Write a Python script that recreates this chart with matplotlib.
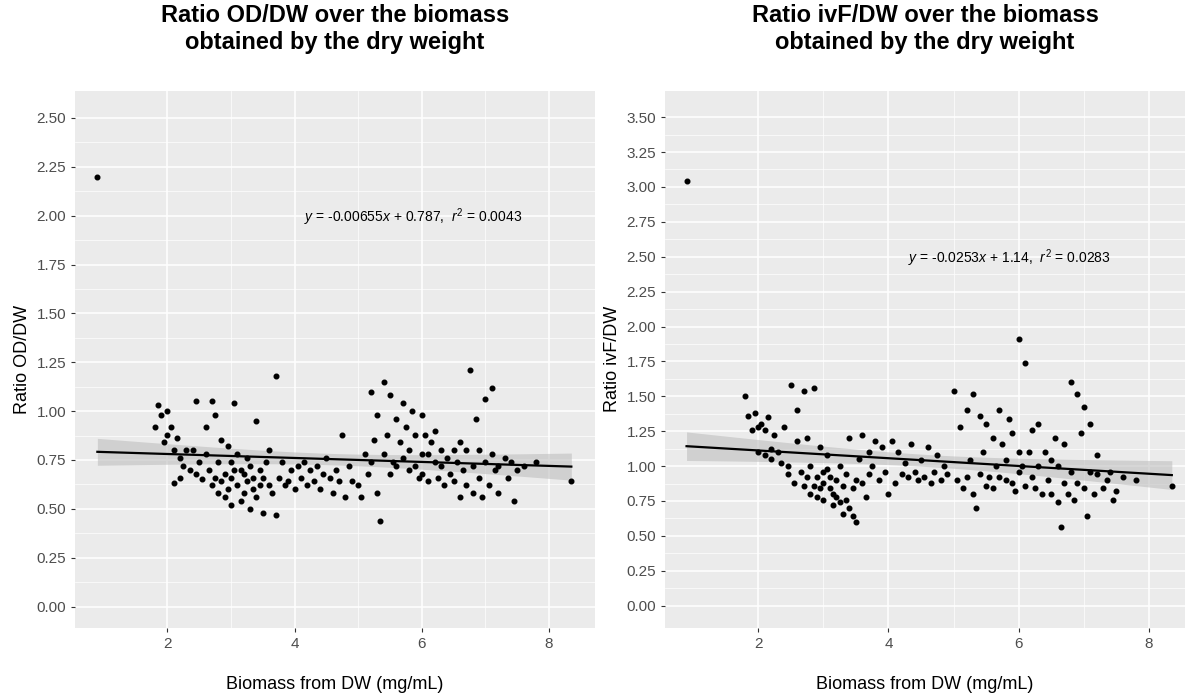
import numpy as np
import matplotlib
matplotlib.use("Agg")
import matplotlib.pyplot as plt
plt.rcParams['font.family'] = ['Liberation Sans', 'DejaVu Sans']
plt.rcParams['mathtext.fontset'] = 'custom'
plt.rcParams['mathtext.it'] = 'Liberation Sans:italic'
plt.rcParams['mathtext.rm'] = 'Liberation Sans'

biomass = [0.9,1.8,1.85,1.9,1.95,2.0,2.0,2.05,2.1,2.1,2.15,2.2,2.2,2.25,2.3,2.35,2.4,2.45,2.45,2.5,2.55,2.6,2.6,2.65,2.7,2.7,2.75,2.75,2.8,2.8,2.85,2.85,2.9,2.9,2.95,2.95,3.0,3.0,3.0,3.05,3.05,3.1,3.1,3.15,3.15,3.2,3.2,3.25,3.25,3.3,3.3,3.35,3.35,3.4,3.4,3.45,3.45,3.5,3.5,3.55,3.6,3.6,3.65,3.7,3.7,3.75,3.8,3.85,3.9,3.95,4.0,4.05,4.1,4.15,4.2,4.25,4.3,4.35,4.4,4.45,4.5,4.55,4.6,4.65,4.7,4.75,4.8,4.85,4.9,5.0,5.05,5.1,5.15,5.2,5.2,5.25,5.3,5.3,5.35,5.4,5.4,5.45,5.5,5.5,5.55,5.6,5.6,5.65,5.7,5.7,5.75,5.8,5.8,5.85,5.9,5.9,5.95,6.0,6.0,6.0,6.05,6.1,6.1,6.15,6.2,6.2,6.25,6.3,6.3,6.35,6.4,6.45,6.5,6.5,6.55,6.6,6.6,6.65,6.7,6.7,6.75,6.8,6.8,6.85,6.9,6.9,6.95,7.0,7.0,7.05,7.1,7.1,7.15,7.2,7.2,7.3,7.35,7.4,7.45,7.5,7.6,7.8,8.35]
ratio_od = [2.20,0.92,1.03,0.98,0.84,1.00,0.88,0.92,0.63,0.80,0.86,0.76,0.66,0.72,0.80,0.70,0.80,1.05,0.68,0.74,0.65,0.78,0.92,0.70,1.05,0.62,0.66,0.98,0.74,0.58,0.85,0.64,0.68,0.56,0.82,0.60,0.74,0.66,0.52,0.70,1.04,0.62,0.78,0.70,0.54,0.68,0.58,0.76,0.64,0.72,0.50,0.66,0.60,0.95,0.56,0.70,0.62,0.66,0.48,0.74,0.62,0.80,0.58,1.18,0.47,0.66,0.74,0.62,0.64,0.70,0.60,0.72,0.66,0.74,0.62,0.70,0.64,0.72,0.60,0.68,0.76,0.66,0.58,0.70,0.64,0.88,0.56,0.72,0.64,0.62,0.56,0.78,0.68,1.10,0.74,0.85,0.58,0.98,0.44,1.15,0.78,0.88,0.68,1.08,0.74,0.96,0.72,0.84,1.04,0.76,0.92,0.80,0.70,1.00,0.72,0.88,0.66,0.98,0.78,0.68,0.88,0.78,0.64,0.84,0.74,0.90,0.66,0.80,0.72,0.62,0.76,0.68,0.80,0.64,0.74,0.56,0.84,0.70,0.62,0.80,1.21,0.72,0.58,0.96,0.66,0.80,0.56,0.74,1.06,0.62,0.78,1.12,0.70,0.58,0.72,0.76,0.66,0.74,0.54,0.70,0.72,0.74,0.64]
ratio_ivf = [3.04,1.50,1.36,1.26,1.38,1.28,1.10,1.30,1.26,1.08,1.35,1.05,1.12,1.22,1.10,1.02,1.28,1.00,0.94,1.58,0.88,1.18,1.40,0.96,1.54,0.86,0.92,1.20,1.00,0.80,1.56,0.86,0.92,0.78,1.14,0.84,0.96,0.88,0.76,0.98,1.08,0.84,0.92,0.80,0.72,0.90,0.78,1.00,0.74,0.86,0.66,0.94,0.76,1.20,0.70,0.84,0.64,0.90,0.60,1.05,0.88,1.22,0.78,1.10,0.94,1.00,1.18,0.90,1.14,0.96,0.80,1.18,0.88,1.10,0.94,1.02,0.92,1.16,0.96,0.90,1.04,0.92,1.14,0.88,0.96,1.08,0.90,1.00,0.94,1.54,0.90,1.28,0.84,0.92,1.40,1.04,0.80,1.52,0.70,1.36,0.94,1.10,0.86,1.30,0.92,1.20,0.84,1.00,1.40,0.92,1.16,0.90,1.04,1.34,0.88,1.24,0.82,1.10,0.96,1.91,1.00,0.86,1.74,1.10,0.92,1.26,0.84,1.00,1.30,0.80,1.10,0.90,1.04,0.80,1.20,0.74,1.00,0.56,0.88,1.16,0.80,1.60,0.96,0.76,1.52,0.88,1.24,0.84,1.42,0.64,0.96,1.30,0.80,1.08,0.94,0.84,0.90,0.96,0.76,0.82,0.92,0.90,0.86]

eq_od = r"$y$ = -0.00655$x$ + 0.787,  $r^2$ = 0.0043"
eq_ivf = r"$y$ = -0.0253$x$ + 1.14,  $r^2$ = 0.0283"

x = np.array(biomass)
fig, axes = plt.subplots(1, 2, figsize=(11.92, 6.97), dpi=100)
fig.subplots_adjust(left=0.063, right=0.994, top=0.87, bottom=0.099, wspace=0.135)

def panel(ax, y, title, ylabel, ylim, yticks, xlim, eq, eqpos):
    y = np.array(y)
    ax.set_facecolor("#EBEBEB")
    ax.grid(True, which="major", color="white", lw=1.1)
    ax.set_xticks([3,5,7], minor=True)
    ax.set_yticks(np.array(yticks[:-1]) + (yticks[1]-yticks[0])/2, minor=True)
    ax.grid(True, which="minor", color="white", lw=0.5)
    ax.set_axisbelow(True)
    for s in ax.spines.values():
        s.set_visible(False)
    ax.scatter(x, y, s=11, color="black", zorder=3)
    b, a = np.polyfit(x, y, 1)
    xs = np.linspace(x.min(), x.max(), 100)
    n = len(x)
    res = y - (a + b*x)
    se = np.sqrt(np.sum(res**2)/(n-2))
    sxx = np.sum((x-x.mean())**2)
    band = 1.97*se*np.sqrt(1/n + (xs-x.mean())**2/sxx)
    ys = a + b*xs
    ax.fill_between(xs, ys-band, ys+band, color="#BEBEBE", alpha=0.6, lw=0, zorder=2)
    ax.plot(xs, ys, color="black", lw=1.6, zorder=4)
    ax.set_xlim(*xlim); ax.set_ylim(*ylim)
    ax.set_xticks([2,4,6,8]); ax.set_yticks(yticks)
    ax.set_yticklabels([f"{v:.2f}" for v in yticks])
    ax.tick_params(which="both", length=3, color="#333333", labelsize=11, labelcolor="#4D4D4D")
    ax.tick_params(which="minor", length=0)
    ax.set_xlabel("Biomass from DW (mg/mL)", fontsize=13, labelpad=18)
    ax.set_ylabel(ylabel, fontsize=13)
    ax.set_title(title, fontsize=17, fontweight="bold", pad=30)
    ax.text(eqpos[0], eqpos[1], eq, fontsize=10, ha="left", va="center")

panel(axes[0], ratio_od, "Ratio OD/DW over the biomass\nobtained by the dry weight", "Ratio OD/DW",
      (-0.11, 2.64), [0,0.25,0.5,0.75,1.0,1.25,1.5,1.75,2.0,2.25,2.5], (0.55, 8.72), eq_od, (4.15, 1.99))
panel(axes[1], ratio_ivf, "Ratio ivF/DW over the biomass\nobtained by the dry weight", "Ratio ivF/DW",
      (-0.16, 3.69), [0,0.25,0.5,0.75,1.0,1.25,1.5,1.75,2.0,2.25,2.5,2.75,3.0,3.25,3.5], (0.57, 8.55), eq_ivf, (4.3, 2.49))
fig.savefig("out.png", dpi=100)
